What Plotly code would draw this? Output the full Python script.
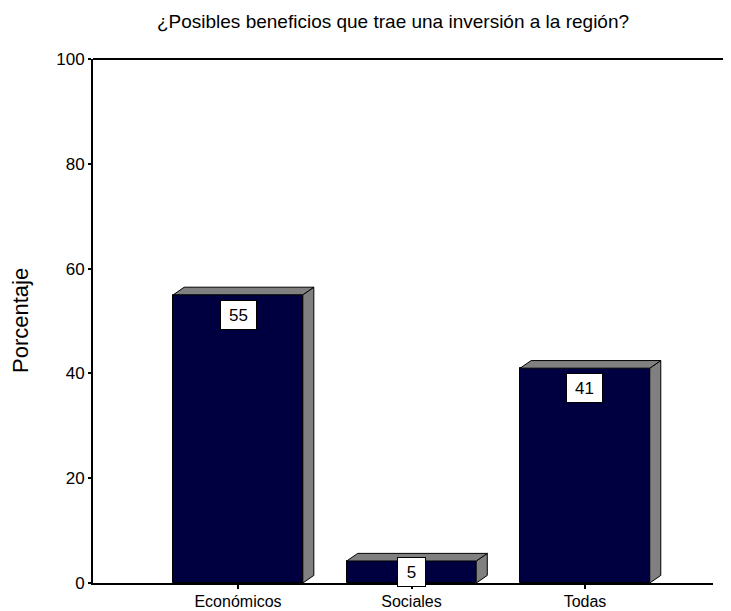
import plotly.graph_objects as go

categories = ["Económicos", "Sociales", "Todas"]
values = [55, 4.2, 41]
labels = ["55", "5", "41"]
y_ticks = [0, 20, 40, 60, 80, 100]

FRONT = "#000040"
SIDE = "#808080"
FONT = "Liberation Sans, Arial, sans-serif"

x_pos = list(range(len(categories)))
bar_w = 0.747
dx = 0.0634   # depth in x units
dy = 1.45     # depth in y units

# the page body has an 8px default margin; size the figure to fit inside the window
W, H = 723, 603

fig = go.Figure()
fig.add_trace(go.Bar(
    x=x_pos, y=values, width=bar_w,
    marker=dict(color=FRONT, line=dict(color="black", width=1)),
    hoverinfo="skip", showlegend=False,
))

shapes = []
for xi, v in zip(x_pos, values):
    x0, x1 = xi - bar_w / 2, xi + bar_w / 2
    shapes.append(dict(
        type="path", xref="x", yref="y",
        path=f"M {x1},0 L {x1+dx},{dy} L {x1+dx},{v+dy} L {x1},{v} Z",
        fillcolor=SIDE, line=dict(color="black", width=1), layer="above"))
    shapes.append(dict(
        type="path", xref="x", yref="y",
        path=f"M {x0},{v} L {x0+dx},{v+dy} L {x1+dx},{v+dy} L {x1},{v} Z",
        fillcolor=SIDE, line=dict(color="black", width=1), layer="above"))

shapes.append(dict(type="line", xref="paper", yref="paper", x0=0, x1=1.027, y0=1, y1=1,
                   line=dict(color="black", width=2)))

annotations = []
for xi, v, lab in zip(x_pos, values, labels):
    if v < 10:
        y, anchor, w = v / 2, "middle", 21
    else:
        y, anchor, w = v - 1, "top", 29
    annotations.append(dict(
        x=xi, y=y, xref="x", yref="y", text=lab, showarrow=False,
        yanchor=anchor, xanchor="center",
        font=dict(family=FONT, size=17, color="black"),
        bgcolor="white", bordercolor="black", borderwidth=1, borderpad=3,
        width=w, height=22))

annotations.append(dict(
    x=(12 - 85) / 620, y=0.5, xref="paper", yref="paper", text="Porcentaje",
    textangle=-90, showarrow=False, xanchor="center", yanchor="middle",
    font=dict(family=FONT, size=22, color="black")))

fig.update_layout(
    width=W, height=H,
    margin=dict(l=85, r=18, t=51, b=28, autoexpand=False),
    paper_bgcolor="white", plot_bgcolor="white",
    title=dict(text="¿Posibles beneficios que trae una inversión a la región?",
               x=385 / W, xanchor="center", y=1 - 13 / H, yanchor="middle",
               font=dict(family=FONT, size=19, color="black")),
    xaxis=dict(range=[-0.836, 2.738], tickmode="array", tickvals=x_pos, ticktext=categories,
               showgrid=False, zeroline=False, showline=True, linecolor="black", linewidth=2,
               ticks="outside", ticklen=4, tickwidth=2, tickcolor="black", automargin=False,
               ticklabelstandoff=-1,
               tickfont=dict(family=FONT, size=16, color="black")),
    yaxis=dict(range=[0, 100], tickmode="array", tickvals=y_ticks,
               showgrid=False, zeroline=False, showline=True, linecolor="black", linewidth=2,
               ticks="outside", ticklen=3, tickwidth=2, tickcolor="black", automargin=False,
               tickfont=dict(family=FONT, size=17, color="black")),
    shapes=shapes, annotations=annotations,
    bargap=0,
)

fig.write_html("out.html")
